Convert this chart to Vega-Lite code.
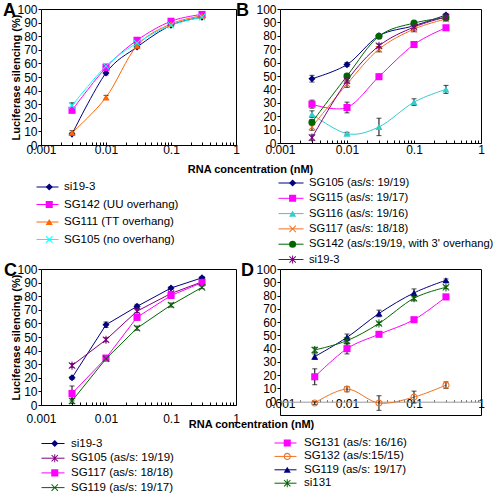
{
  "$schema": "https://vega.github.io/schema/vega-lite/v6.json",
  "background": "white",
  "padding": {"left": 2, "top": 1, "right": 0, "bottom": 0},
  "config": {
    "font": "Liberation Sans",
    "view": {"stroke": "black", "strokeWidth": 1},
    "axis": {"labelFont": "Liberation Sans", "labelFontSize": 12, "labelColor": "black", "titleFont": "Liberation Sans", "titleFontSize": 11, "titleFontWeight": "bold", "titleColor": "black", "grid": false, "domain": false, "tickColor": "black", "labelFlush": false, "labelOverlap": false},
    "legend": {"labelFont": "Liberation Sans", "labelFontSize": 11.5, "labelColor": "black", "padding": 0, "labelLimit": 300, "clipHeight": 12},
    "title": {"font": "Liberation Sans", "fontSize": 18, "fontWeight": "bold", "color": "black", "anchor": "start", "frame": "group", "offset": 0, "baseline": "alphabetic"}
  },
  "columns": 2,
  "bounds": "flush",
  "spacing": {"column": 44, "row": 124},
  "concat": [
    {
      "width": 195, "height": 136,
      "title": {"text": "A", "dx": -38, "dy": 21},
      "data": {"values": [
        {"s": "si19-3", "x": 0.003, "y": 8, "e": 1},
        {"s": "si19-3", "x": 0.01, "y": 53, "e": 1.5},
        {"s": "si19-3", "x": 0.03, "y": 72, "e": 1},
        {"s": "si19-3", "x": 0.1, "y": 88, "e": 0.5},
        {"s": "si19-3", "x": 0.3, "y": 94, "e": 0.5},
        {"s": "SG142 (UU overhang)", "x": 0.003, "y": 25.5, "e": 1},
        {"s": "SG142 (UU overhang)", "x": 0.01, "y": 57, "e": 1},
        {"s": "SG142 (UU overhang)", "x": 0.03, "y": 77, "e": 1},
        {"s": "SG142 (UU overhang)", "x": 0.1, "y": 91, "e": 0.5},
        {"s": "SG142 (UU overhang)", "x": 0.3, "y": 96, "e": 0.5},
        {"s": "SG111 (TT overhang)", "x": 0.003, "y": 9, "e": 1.5},
        {"s": "SG111 (TT overhang)", "x": 0.01, "y": 35, "e": 1.5},
        {"s": "SG111 (TT overhang)", "x": 0.03, "y": 73, "e": 1},
        {"s": "SG111 (TT overhang)", "x": 0.1, "y": 89, "e": 0.5},
        {"s": "SG111 (TT overhang)", "x": 0.3, "y": 95, "e": 0.5},
        {"s": "SG105 (no overhang)", "x": 0.003, "y": 29, "e": 2},
        {"s": "SG105 (no overhang)", "x": 0.01, "y": 58, "e": 1.5},
        {"s": "SG105 (no overhang)", "x": 0.03, "y": 75, "e": 1},
        {"s": "SG105 (no overhang)", "x": 0.1, "y": 88, "e": 0.5},
        {"s": "SG105 (no overhang)", "x": 0.3, "y": 94, "e": 0.5}
      ]},
      "encoding": {
        "x": {"field": "x", "type": "quantitative", "scale": {"type": "log", "domain": [0.001, 1], "nice": false},
          "axis": {"values": [0.001,0.002,0.003,0.004,0.005,0.006,0.007,0.008,0.009,0.01,0.02,0.03,0.04,0.05,0.06,0.07,0.08,0.09,0.1,0.2,0.3,0.4,0.5,0.6,0.7,0.8,0.9,1],
            "labelExpr": "datum.value == 0.001 || datum.value == 0.01 || datum.value == 0.1 || datum.value == 1 ? datum.value + '' : ''",
            "tickSize": -3, "labelPadding": 2, "title": "RNA concentration (nM)", "titleX": 209, "titleY": 24, "titleBaseline": "middle"}},
        "y": {"field": "y", "type": "quantitative", "scale": {"domain": [0, 100], "nice": false},
          "axis": {"values": [0,10,20,30,40,50,60,70,80,90,100], "tickSize": 3, "labelPadding": 1, "title": "Luciferase silencing (%)", "titleX": -25, "titleBaseline": "middle"}}
      },
      "layer": [
        {"mark": {"type": "line", "interpolate": "cardinal", "tension": 0, "strokeWidth": 1},
          "encoding": {"color": {"field": "s", "type": "nominal", "sort": null,
            "scale": {"domain": ["si19-3", "SG142 (UU overhang)", "SG111 (TT overhang)", "SG105 (no overhang)"], "range": ["#000080", "#FF00FF", "#FF6600", "#00FFFF"]},
            "legend": {"orient": "none", "legendX": -5, "legendY": 172, "title": null, "symbolType": "stroke", "symbolSize": 484, "symbolStrokeWidth": 1, "labelOffset": 5, "rowPadding": 5.5}}}},
        {"transform": [{"filter": "datum.e > 0"}],
          "mark": {"type": "errorbar", "color": "black", "ticks": true, "size": 5, "thickness": 1},
          "encoding": {"yError": {"field": "e"}}},
        {"mark": {"type": "point", "filled": true, "opacity": 1, "size": 50},
          "encoding": {
            "color": {"field": "s", "type": "nominal", "sort": null,
              "scale": {"domain": ["si19-3", "SG142 (UU overhang)", "SG111 (TT overhang)", "SG105 (no overhang)"], "range": ["#000080", "#FF00FF", "#FF6600", "#00FFFF"]},
              "legend": {"orient": "none", "legendX": 2.5, "legendY": 172, "title": null, "symbolSize": 50, "labelOpacity": 0, "rowPadding": 5.5}},
            "shape": {"field": "s", "type": "nominal", "sort": null,
              "scale": {"domain": ["si19-3", "SG142 (UU overhang)", "SG111 (TT overhang)", "SG105 (no overhang)"], "range": ["diamond", "square", "triangle-up", "M-1,-0.8L-0.8,-1L0,-0.2L0.8,-1L1,-0.8L0.2,0L1,0.8L0.8,1L0,0.2L-0.8,1L-1,0.8L-0.2,0Z"]},
              "legend": {"orient": "none", "legendX": 2.5, "legendY": 172, "title": null, "symbolSize": 50, "labelOpacity": 0, "rowPadding": 5.5}}
          }}
      ],
      "resolve": {"scale": {"color": "independent", "shape": "independent"}}
    },
    {
      "width": 201, "height": 134,
      "title": {"text": "B", "dx": -44, "dy": 21},
      "data": {"values": [
        {"s": "SG105 (as/s: 19/19)", "x": 0.003, "y": 48, "e": 2.5},
        {"s": "SG105 (as/s: 19/19)", "x": 0.01, "y": 58.5, "e": 1.5},
        {"s": "SG105 (as/s: 19/19)", "x": 0.03, "y": 80, "e": 1},
        {"s": "SG105 (as/s: 19/19)", "x": 0.1, "y": 87.5, "e": 1},
        {"s": "SG105 (as/s: 19/19)", "x": 0.3, "y": 95.5, "e": 1},
        {"s": "SG115 (as/s: 19/17)", "x": 0.003, "y": 29, "e": 3},
        {"s": "SG115 (as/s: 19/17)", "x": 0.01, "y": 26.5, "e": 4},
        {"s": "SG115 (as/s: 19/17)", "x": 0.03, "y": 49.5, "e": 1.5},
        {"s": "SG115 (as/s: 19/17)", "x": 0.1, "y": 73.5, "e": 1.5},
        {"s": "SG115 (as/s: 19/17)", "x": 0.3, "y": 86, "e": 1.5},
        {"s": "SG116 (as/s: 19/16)", "x": 0.003, "y": 21.5, "e": 2.5},
        {"s": "SG116 (as/s: 19/16)", "x": 0.01, "y": 7, "e": 1},
        {"s": "SG116 (as/s: 19/16)", "x": 0.03, "y": 12, "e": 6.5},
        {"s": "SG116 (as/s: 19/16)", "x": 0.1, "y": 30.5, "e": 2.5},
        {"s": "SG116 (as/s: 19/16)", "x": 0.3, "y": 40, "e": 3},
        {"s": "SG117 (as/s: 18/18)", "x": 0.003, "y": 12, "e": 2.5},
        {"s": "SG117 (as/s: 18/18)", "x": 0.01, "y": 44, "e": 2.5},
        {"s": "SG117 (as/s: 18/18)", "x": 0.03, "y": 70, "e": 2},
        {"s": "SG117 (as/s: 18/18)", "x": 0.1, "y": 85, "e": 2},
        {"s": "SG117 (as/s: 18/18)", "x": 0.3, "y": 92.5, "e": 1.5},
        {"s": "SG142 (as/s:19/19, with 3' overhang)", "x": 0.003, "y": 15.5, "e": 2},
        {"s": "SG142 (as/s:19/19, with 3' overhang)", "x": 0.01, "y": 50, "e": 1.5},
        {"s": "SG142 (as/s:19/19, with 3' overhang)", "x": 0.03, "y": 79.7, "e": 1},
        {"s": "SG142 (as/s:19/19, with 3' overhang)", "x": 0.1, "y": 89.5, "e": 1},
        {"s": "SG142 (as/s:19/19, with 3' overhang)", "x": 0.3, "y": 93.5, "e": 1},
        {"s": "si19-3", "x": 0.003, "y": 4, "e": 2},
        {"s": "si19-3", "x": 0.01, "y": 46.5, "e": 2},
        {"s": "si19-3", "x": 0.03, "y": 72.5, "e": 1.5},
        {"s": "si19-3", "x": 0.1, "y": 86.5, "e": 1},
        {"s": "si19-3", "x": 0.3, "y": 94, "e": 1}
      ]},
      "encoding": {
        "x": {"field": "x", "type": "quantitative", "scale": {"type": "log", "domain": [0.001, 1], "nice": false},
          "axis": {"values": [0.001,0.002,0.003,0.004,0.005,0.006,0.007,0.008,0.009,0.01,0.02,0.03,0.04,0.05,0.06,0.07,0.08,0.09,0.1,0.2,0.3,0.4,0.5,0.6,0.7,0.8,0.9,1],
            "labelExpr": "datum.value == 0.001 || datum.value == 0.01 || datum.value == 0.1 || datum.value == 1 ? datum.value + '' : ''",
            "tickSize": -3, "labelPadding": 4, "title": null}},
        "y": {"field": "y", "type": "quantitative", "scale": {"domain": [0, 100], "nice": false},
          "axis": {"values": [0,10,20,30,40,50,60,70,80,90,100], "tickSize": 3, "labelPadding": 1, "title": null}}
      },
      "layer": [
        {"mark": {"type": "line", "interpolate": "cardinal", "tension": 0, "strokeWidth": 1},
          "encoding": {"color": {"field": "s", "type": "nominal", "sort": null,
            "scale": {"domain": ["SG105 (as/s: 19/19)", "SG115 (as/s: 19/17)", "SG116 (as/s: 19/16)", "SG117 (as/s: 18/18)", "SG142 (as/s:19/19, with 3' overhang)", "si19-3"], "range": ["#000080", "#FF00FF", "#33CCCC", "#F07020", "#006600", "#800080"]},
            "legend": {"orient": "none", "legendX": -2, "legendY": 168, "title": null, "symbolType": "stroke", "symbolSize": 625, "symbolStrokeWidth": 1, "labelOffset": 5, "rowPadding": 3.3, "labelFontSize": 11.2}}}},
        {"transform": [{"filter": "datum.e > 0"}],
          "mark": {"type": "errorbar", "color": "black", "ticks": true, "size": 5, "thickness": 1},
          "encoding": {"yError": {"field": "e"}}},
        {"mark": {"type": "point", "filled": true, "opacity": 1, "size": 50},
          "encoding": {
            "color": {"field": "s", "type": "nominal", "sort": null,
              "scale": {"domain": ["SG105 (as/s: 19/19)", "SG115 (as/s: 19/17)", "SG116 (as/s: 19/16)", "SG117 (as/s: 18/18)", "SG142 (as/s:19/19, with 3' overhang)", "si19-3"], "range": ["#000080", "#FF00FF", "#33CCCC", "#F07020", "#006600", "#800080"]},
              "legend": {"orient": "none", "legendX": 7, "legendY": 168, "title": null, "symbolSize": 50, "labelOpacity": 0, "rowPadding": 3.3, "labelFontSize": 11.2}},
            "shape": {"field": "s", "type": "nominal", "sort": null,
              "scale": {"domain": ["SG105 (as/s: 19/19)", "SG115 (as/s: 19/17)", "SG116 (as/s: 19/16)", "SG117 (as/s: 18/18)", "SG142 (as/s:19/19, with 3' overhang)", "si19-3"], "range": ["diamond", "square", "triangle-up", "M-1,-0.8L-0.8,-1L0,-0.2L0.8,-1L1,-0.8L0.2,0L1,0.8L0.8,1L0,0.2L-0.8,1L-1,0.8L-0.2,0Z", "circle", "M-1,-0.8L-0.8,-1L0,-0.2L0.8,-1L1,-0.8L0.2,0L1,0.8L0.8,1L0,0.2L-0.8,1L-1,0.8L-0.2,0ZM-0.14,-1.15L0.14,-1.15L0.14,1.15L-0.14,1.15Z"]},
              "legend": {"orient": "none", "legendX": 7, "legendY": 168, "title": null, "symbolSize": 50, "labelOpacity": 0, "rowPadding": 3.3, "labelFontSize": 11.2}}
          }}
      ],
      "resolve": {"scale": {"color": "independent", "shape": "independent"}}
    },
    {
      "width": 195, "height": 136,
      "title": {"text": "C", "dx": -37, "dy": 21},
      "data": {"values": [
        {"s": "si19-3", "x": 0.003, "y": 20, "e": 1},
        {"s": "si19-3", "x": 0.01, "y": 59, "e": 2},
        {"s": "si19-3", "x": 0.03, "y": 72.5, "e": 1.5},
        {"s": "si19-3", "x": 0.1, "y": 86, "e": 1},
        {"s": "si19-3", "x": 0.3, "y": 93.5, "e": 1},
        {"s": "SG105 (as/s: 19/19)", "x": 0.003, "y": 29, "e": 1.5},
        {"s": "SG105 (as/s: 19/19)", "x": 0.01, "y": 48, "e": 1.5},
        {"s": "SG105 (as/s: 19/19)", "x": 0.03, "y": 69, "e": 1},
        {"s": "SG105 (as/s: 19/19)", "x": 0.1, "y": 82, "e": 1},
        {"s": "SG105 (as/s: 19/19)", "x": 0.3, "y": 90.5, "e": 1},
        {"s": "SG117 (as/s: 18/18)", "x": 0.003, "y": 8.5, "e": 5.5},
        {"s": "SG117 (as/s: 18/18)", "x": 0.01, "y": 34.5, "e": 1.5},
        {"s": "SG117 (as/s: 18/18)", "x": 0.03, "y": 64.5, "e": 2},
        {"s": "SG117 (as/s: 18/18)", "x": 0.1, "y": 80.5, "e": 1.5},
        {"s": "SG117 (as/s: 18/18)", "x": 0.3, "y": 90, "e": 1.5},
        {"s": "SG119 (as/s: 19/17)", "x": 0.003, "y": 3, "e": 2},
        {"s": "SG119 (as/s: 19/17)", "x": 0.01, "y": 34, "e": 1.5},
        {"s": "SG119 (as/s: 19/17)", "x": 0.03, "y": 56.5, "e": 1.5},
        {"s": "SG119 (as/s: 19/17)", "x": 0.1, "y": 73.5, "e": 1.5},
        {"s": "SG119 (as/s: 19/17)", "x": 0.3, "y": 86.5, "e": 1}
      ]},
      "encoding": {
        "x": {"field": "x", "type": "quantitative", "scale": {"type": "log", "domain": [0.001, 1], "nice": false},
          "axis": {"values": [0.001,0.002,0.003,0.004,0.005,0.006,0.007,0.008,0.009,0.01,0.02,0.03,0.04,0.05,0.06,0.07,0.08,0.09,0.1,0.2,0.3,0.4,0.5,0.6,0.7,0.8,0.9,1],
            "labelExpr": "datum.value == 0.001 || datum.value == 0.01 || datum.value == 0.1 || datum.value == 1 ? datum.value + '' : ''",
            "tickSize": -3, "labelPadding": 11, "title": "RNA concentration (nM)", "titleX": 210, "titleY": 19, "titleBaseline": "middle"}},
        "y": {"field": "y", "type": "quantitative", "scale": {"domain": [0, 100], "nice": false},
          "axis": {"values": [0,10,20,30,40,50,60,70,80,90,100], "tickSize": 3, "labelPadding": 1, "title": "Luciferase silencing (%)", "titleX": -25, "titleBaseline": "middle"}}
      },
      "layer": [
        {"mark": {"type": "line", "strokeWidth": 1},
          "encoding": {"color": {"field": "s", "type": "nominal", "sort": null,
            "scale": {"domain": ["si19-3", "SG105 (as/s: 19/19)", "SG117 (as/s: 18/18)", "SG119 (as/s: 19/17)"], "range": ["#000080", "#800080", "#FF00FF", "#006600"]},
            "legend": {"orient": "none", "legendX": 0, "legendY": 168.5, "title": null, "symbolType": "stroke", "symbolSize": 529, "symbolStrokeWidth": 1, "labelOffset": 6, "rowPadding": 2.7}}}},
        {"transform": [{"filter": "datum.e > 0"}],
          "mark": {"type": "errorbar", "color": "black", "ticks": true, "size": 5, "thickness": 1},
          "encoding": {"yError": {"field": "e"}}},
        {"mark": {"type": "point", "filled": true, "opacity": 1, "size": 50},
          "encoding": {
            "color": {"field": "s", "type": "nominal", "sort": null,
              "scale": {"domain": ["si19-3", "SG105 (as/s: 19/19)", "SG117 (as/s: 18/18)", "SG119 (as/s: 19/17)"], "range": ["#000080", "#800080", "#FF00FF", "#006600"]},
              "legend": {"orient": "none", "legendX": 8, "legendY": 168.5, "title": null, "symbolSize": 50, "labelOpacity": 0, "rowPadding": 2.7}},
            "shape": {"field": "s", "type": "nominal", "sort": null,
              "scale": {"domain": ["si19-3", "SG105 (as/s: 19/19)", "SG117 (as/s: 18/18)", "SG119 (as/s: 19/17)"], "range": ["diamond", "M-1,-0.8L-0.8,-1L0,-0.2L0.8,-1L1,-0.8L0.2,0L1,0.8L0.8,1L0,0.2L-0.8,1L-1,0.8L-0.2,0ZM-0.14,-1.15L0.14,-1.15L0.14,1.15L-0.14,1.15Z", "square", "M-1,-0.8L-0.8,-1L0,-0.2L0.8,-1L1,-0.8L0.2,0L1,0.8L0.8,1L0,0.2L-0.8,1L-1,0.8L-0.2,0Z"]},
              "legend": {"orient": "none", "legendX": 8, "legendY": 168.5, "title": null, "symbolSize": 50, "labelOpacity": 0, "rowPadding": 2.7}}
          }}
      ],
      "resolve": {"scale": {"color": "independent", "shape": "independent"}}
    },
    {
      "width": 201, "height": 146,
      "title": {"text": "D", "dx": -39, "dy": 21},
      "data": {"values": [
        {"s": "SG131 (as/s: 16/16)", "x": 0.0033, "y": 18.8, "e": 6},
        {"s": "SG131 (as/s: 16/16)", "x": 0.01, "y": 40, "e": 4},
        {"s": "SG131 (as/s: 16/16)", "x": 0.03, "y": 50.8, "e": 1.5},
        {"s": "SG131 (as/s: 16/16)", "x": 0.1, "y": 61.8, "e": 1.5},
        {"s": "SG131 (as/s: 16/16)", "x": 0.3, "y": 79, "e": 1},
        {"s": "SG132 (as/s:15/15)", "x": 0.0033, "y": -1, "e": 1},
        {"s": "SG132 (as/s:15/15)", "x": 0.01, "y": 9.5, "e": 2},
        {"s": "SG132 (as/s:15/15)", "x": 0.03, "y": -1, "e": 5.5},
        {"s": "SG132 (as/s:15/15)", "x": 0.1, "y": 3.5, "e": 4.5},
        {"s": "SG132 (as/s:15/15)", "x": 0.3, "y": 12.5, "e": 2.5},
        {"s": "SG119 (as/s: 19/17)", "x": 0.0033, "y": 34, "e": 2},
        {"s": "SG119 (as/s: 19/17)", "x": 0.01, "y": 48.5, "e": 2.5},
        {"s": "SG119 (as/s: 19/17)", "x": 0.03, "y": 66.5, "e": 2.5},
        {"s": "SG119 (as/s: 19/17)", "x": 0.1, "y": 82, "e": 3},
        {"s": "SG119 (as/s: 19/17)", "x": 0.3, "y": 91.5, "e": 1},
        {"s": "si131", "x": 0.0033, "y": 39, "e": 2},
        {"s": "si131", "x": 0.01, "y": 46, "e": 2.5},
        {"s": "si131", "x": 0.03, "y": 59, "e": 1},
        {"s": "si131", "x": 0.1, "y": 78, "e": 2},
        {"s": "si131", "x": 0.3, "y": 86.2, "e": 1}
      ]},
      "encoding": {
        "x": {"field": "x", "type": "quantitative", "scale": {"type": "log", "domain": [0.001, 1], "nice": false},
          "axis": {"values": [0.001,0.002,0.003,0.004,0.005,0.006,0.007,0.008,0.009,0.01,0.02,0.03,0.04,0.05,0.06,0.07,0.08,0.09,0.1,0.2,0.3,0.4,0.5,0.6,0.7,0.8,0.9,1],
            "labelExpr": "datum.value == 0.001 || datum.value == 0.01 || datum.value == 0.1 || datum.value == 1 ? datum.value + '' : ''",
            "offset": -13.3, "domain": true, "domainColor": "#999999", "tickSize": -2, "tickColor": "#666666", "labelPadding": -1.5, "title": null}},
        "y": {"field": "y", "type": "quantitative", "scale": {"domain": [-10, 100], "nice": false},
          "axis": {"values": [0,10,20,30,40,50,60,70,80,90,100], "tickSize": 3, "labelPadding": 1, "title": null}}
      },
      "layer": [
        {"mark": {"type": "line", "interpolate": "cardinal", "tension": 0, "strokeWidth": 1},
          "encoding": {"color": {"field": "s", "type": "nominal", "sort": null,
            "scale": {"domain": ["SG131 (as/s: 16/16)", "SG132 (as/s:15/15)", "SG119 (as/s: 19/17)", "si131"], "range": ["#FF00FF", "#F07020", "#000080", "#006600"]},
            "legend": {"orient": "none", "legendX": -6, "legendY": 168, "title": null, "symbolType": "stroke", "symbolSize": 484, "symbolStrokeWidth": 1, "labelOffset": 7, "rowPadding": 1.4}}}},
        {"transform": [{"filter": "datum.e > 0"}],
          "mark": {"type": "errorbar", "color": "black", "ticks": true, "size": 5, "thickness": 1},
          "encoding": {"yError": {"field": "e"}}},
        {"mark": {"type": "point", "filled": true, "opacity": 1, "size": 50},
          "encoding": {
            "color": {"field": "s", "type": "nominal", "sort": null,
              "scale": {"domain": ["SG131 (as/s: 16/16)", "SG132 (as/s:15/15)", "SG119 (as/s: 19/17)", "si131"], "range": ["#FF00FF", "#F07020", "#000080", "#006600"]},
              "legend": {"orient": "none", "legendX": 1.5, "legendY": 168, "title": null, "symbolSize": 50, "labelOpacity": 0, "rowPadding": 1.4}},
            "shape": {"field": "s", "type": "nominal", "sort": null,
              "scale": {"domain": ["SG131 (as/s: 16/16)", "SG132 (as/s:15/15)", "SG119 (as/s: 19/17)", "si131"], "range": ["square", "M-1,0A1,1,0,1,1,1,0A1,1,0,1,1,-1,0ZM-0.7,0A0.7,0.7,0,1,0,0.7,0A0.7,0.7,0,1,0,-0.7,0Z", "triangle-up", "M-1,-0.8L-0.8,-1L0,-0.2L0.8,-1L1,-0.8L0.2,0L1,0.8L0.8,1L0,0.2L-0.8,1L-1,0.8L-0.2,0ZM-0.14,-1.15L0.14,-1.15L0.14,1.15L-0.14,1.15Z"]},
              "legend": {"orient": "none", "legendX": 1.5, "legendY": 168, "title": null, "symbolSize": 50, "labelOpacity": 0, "rowPadding": 1.4}}
          }}
      ],
      "resolve": {"scale": {"color": "independent", "shape": "independent"}}
    }
  ]
}
